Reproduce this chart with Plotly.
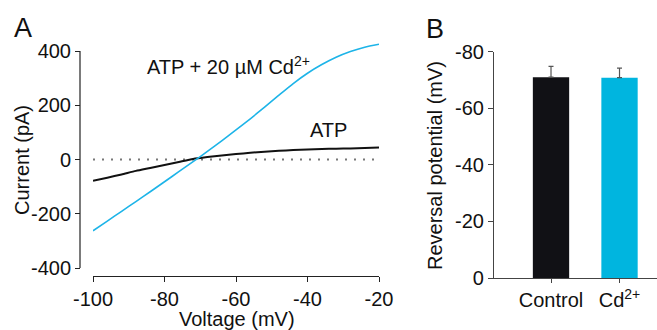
import plotly.graph_objects as go

# ---- Data ----
voltage = [-100, -96, -92, -88, -84, -80, -76, -72, -68, -64, -60, -56, -52,
           -48, -44, -40, -36, -32, -28, -24, -20]
current_cd = [-263, -227, -191, -155, -119, -82, -45, -8, 30, 69, 109, 150, 193,
              237, 280, 318, 350, 377, 398, 414, 425]
current_atp = [-78, -67, -55, -42, -31, -20, -9, 2, 9, 15, 20, 25, 29,
               32, 35, 37, 38.5, 40, 41, 42, 44]

v_ticks = [-100, -80, -60, -40, -20]
v_ticktext = ["-100", "-80", "-60", "-40", "-20"]
i_ticks = [-400, -200, 0, 200, 400]
i_ticktext = ["-400", "-200", "0", "200", "400"]

groups = ["Control", "Cd<sup>2+</sup>"]
reversal = [-71.0, -70.8]
reversal_err = [3.8, 3.4]
r_ticks = [0, -20, -40, -60, -80]
r_ticktext = ["0", "-20", "-40", "-60", "-80"]

W, H = 657, 330
FONT = "Liberation Sans, Arial, sans-serif"

def px(x):
    return x / W

def py(y):
    return 1 - y / H

fig = go.Figure()

# Panel A
fig.add_trace(go.Scatter(x=[v_ticks[0], v_ticks[-1]], y=[0, 0], mode="lines",
                         line=dict(color="#777777", width=2, dash="2px,7px"),
                         xaxis="x", yaxis="y", showlegend=False, hoverinfo="skip"))
fig.add_trace(go.Scatter(x=voltage, y=current_atp, mode="lines",
                         line=dict(color="#111111", width=2, shape="spline", smoothing=0.6),
                         xaxis="x", yaxis="y", showlegend=False))
fig.add_trace(go.Scatter(x=voltage, y=current_cd, mode="lines",
                         line=dict(color="#1db4e8", width=1.6, shape="spline", smoothing=0.6),
                         xaxis="x", yaxis="y", showlegend=False))

# Panel B
fig.add_trace(go.Bar(x=[0, 1], y=reversal, width=0.53,
                     marker=dict(color=["#111115", "#00b5df"], line=dict(width=0)),
                     error_y=dict(type="data", symmetric=False,
                                  array=[0, 0], arrayminus=reversal_err,
                                  color="#555555", thickness=1.2, width=2.5),
                     xaxis="x2", yaxis="y2", showlegend=False))

axis_font = dict(family=FONT, size=20, color="#111111")
common = dict(showgrid=False, zeroline=False, tickfont=axis_font, automargin=False)

def ann(text, x, y, size=20, angle=0, xref="paper", yref="paper"):
    return dict(text=text, x=x, y=y, xref=xref, yref=yref, textangle=angle,
                xanchor="center", yanchor="middle", showarrow=False,
                font=dict(family=FONT, size=size, color="#111111"))

fig.update_layout(
    template="none",
    width=W, height=H,
    margin=dict(l=0, r=0, t=0, b=0, autoexpand=False),
    paper_bgcolor="white", plot_bgcolor="white",
    font=dict(family=FONT, color="#111111"),
    xaxis=dict(domain=[px(93), px(379)], range=[-100, -20],
               anchor="free", position=py(276),
               tickvals=v_ticks, ticktext=v_ticktext,
               showline=True, linecolor="#222222", linewidth=1.2,
               ticks="outside", ticklen=5, tickwidth=1.2, tickcolor="#222222",
               **common),
    yaxis=dict(domain=[py(268), py(40.15)], range=[-400, 440],
               anchor="free", position=px(80),
               tickvals=i_ticks, ticktext=i_ticktext,
               showline=False,
               ticks="outside", ticklen=5, tickwidth=1.2, tickcolor="#222222",
               **common),
    xaxis2=dict(domain=[px(494), 1.0], range=[-0.832, 1.547],
                anchor="y2", tickvals=[0, 1], ticktext=groups,
                showline=True, linecolor="#444444", linewidth=1.2,
                ticks="outside", ticklen=4, tickwidth=1.2, tickcolor="#444444",
                **common),
    yaxis2=dict(domain=[py(278), py(51.7)], range=[0, -80],
                anchor="x2", tickvals=r_ticks, ticktext=r_ticktext,
                showline=True, linecolor="#444444", linewidth=1.2,
                ticks="outside", ticklen=5, tickwidth=1.2, tickcolor="#444444",
                **common),
    shapes=[dict(type="line", xref="paper", yref="y",
                 x0=px(80), x1=px(80), y0=i_ticks[0], y1=i_ticks[-1],
                 line=dict(color="#222222", width=1.2))],
    annotations=[
        ann("A", px(23), py(28), size=27),
        ann("B", px(435), py(29), size=27),
        ann("Current (pA)", px(22), py(160), angle=-90),
        ann("Voltage (mV)", px(237), py(318.5)),
        ann("Reversal potential (mV)", px(435), py(166), angle=-90),
        ann("ATP + 20 µM Cd<sup>2+</sup>", -62, 345, xref="x", yref="y"),
        ann("ATP", -34, 108, xref="x", yref="y"),
    ],
)

fig.write_html("out.html",
               config={"displayModeBar": False},
               post_script="document.body.style.margin='0';document.body.style.padding='0';document.body.style.overflow='hidden';")
